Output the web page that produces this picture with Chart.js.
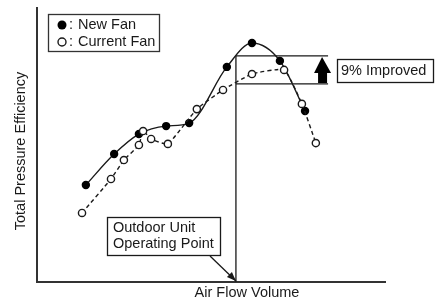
<!DOCTYPE html>
<html>
<head>
<meta charset="utf-8">
<script src="https://cdn.jsdelivr.net/npm/chart.js@4.4.1/dist/chart.umd.min.js"></script>
<style>
  html, body { margin: 0; padding: 0; background: #fff; }
  #wrap { width: 441px; height: 302px; position: relative; }
</style>
</head>
<body>
<div id="wrap"><canvas id="fanChart"></canvas></div>
<script>
// Valores (escala relativa 0-100 nos dois eixos)
const newFanX = [14.0, 22.1, 29.2, 37.0, 43.6, 54.4, 61.6, 69.6, 76.8];
const newFanY = [35.4, 46.7, 54.0, 56.9, 58.0, 78.5, 87.2, 80.7, 62.4];
const currentFanX = [12.9, 21.2, 24.9, 29.2, 30.4, 32.7, 37.5, 45.8, 53.3, 61.6, 70.8, 75.9, 79.9];
const currentFanY = [25.2, 37.6, 44.5, 50.0, 55.1, 52.2, 50.4, 63.1, 70.1, 75.9, 77.4, 65.0, 50.7];
const operatingPoint = 57.0;
const newFanAtPoint = 82.5;
const currentFanAtPoint = 72.3;
const bracketEnd = 83.4;

const seriesLabels = ['New Fan', 'Current Fan'];
const improvedLabel = '9% Improved';
const operatingLabel = ['Outdoor Unit', 'Operating Point'];
const xTitle = 'Air Flow Volume';
const yTitle = 'Total Pressure Efficiency';

const ink = '#1a1a1a';
const fontName = '"Liberation Sans", Arial, sans-serif';

function toPoints(xs, ys) {
    return xs.map((x, i) => ({ x: x, y: ys[i] }));
}

// Desenha eixos, caixas, setas e textos
const extrasPlugin = {
    id: 'extras',
    afterDatasetsDraw(chart) {
        const ctx = chart.ctx;
        const area = chart.chartArea;
        const sx = chart.scales.x;
        const sy = chart.scales.y;
        ctx.save();

        // eixos
        ctx.strokeStyle = '#333';
        ctx.lineWidth = 2;
        ctx.beginPath();
        ctx.moveTo(area.left, area.top - 1);
        ctx.lineTo(area.left, area.bottom);
        ctx.lineTo(area.right, area.bottom);
        ctx.stroke();

        // linha do ponto de operacao e faixa de melhoria
        const px = sx.getPixelForValue(operatingPoint);
        const yNew = sy.getPixelForValue(newFanAtPoint);
        const yCur = sy.getPixelForValue(currentFanAtPoint);
        const xEnd = sx.getPixelForValue(bracketEnd);
        ctx.strokeStyle = ink;
        ctx.lineWidth = 1.3;
        ctx.beginPath();
        ctx.moveTo(px, area.bottom);
        ctx.lineTo(px, yNew);
        ctx.moveTo(px, yNew);
        ctx.lineTo(xEnd, yNew);
        ctx.moveTo(px, yCur);
        ctx.lineTo(xEnd, yCur);
        ctx.stroke();

        // seta para cima
        const ax = xEnd - 6;
        ctx.fillStyle = '#000';
        ctx.beginPath();
        ctx.moveTo(ax, yNew + 1);
        ctx.lineTo(ax + 9, yNew + 17);
        ctx.lineTo(ax + 5, yNew + 17);
        ctx.lineTo(ax + 5, yCur - 1);
        ctx.lineTo(ax - 4, yCur - 1);
        ctx.lineTo(ax - 4, yNew + 17);
        ctx.lineTo(ax - 8, yNew + 17);
        ctx.closePath();
        ctx.fill();

        ctx.font = '14.5px ' + fontName;
        ctx.textBaseline = 'middle';
        ctx.fillStyle = ink;

        // caixa "9% Improved"
        ctx.lineWidth = 1.3;
        ctx.strokeRect(337.5, 59.5, 96, 23);
        ctx.textAlign = 'left';
        ctx.fillText(improvedLabel, 341, 71);

        // caixa do ponto de operacao
        ctx.strokeRect(107.5, 217.5, 113, 38);
        ctx.fillText(operatingLabel[0], 113, 228);
        ctx.fillText(operatingLabel[1], 113, 244);
        ctx.beginPath();
        ctx.moveTo(210, 256);
        ctx.lineTo(px, area.bottom - 1);
        ctx.stroke();
        ctx.beginPath();
        ctx.moveTo(px, area.bottom - 1);
        ctx.lineTo(px - 9, area.bottom - 5);
        ctx.lineTo(px - 4, area.bottom - 10);
        ctx.closePath();
        ctx.fill();

        // legenda
        ctx.strokeStyle = '#333';
        ctx.strokeRect(48.5, 14.5, 111, 37);
        ctx.fillStyle = '#000';
        ctx.beginPath();
        ctx.arc(62, 25, 4.5, 0, Math.PI * 2);
        ctx.fill();
        ctx.fillStyle = '#fff';
        ctx.strokeStyle = ink;
        ctx.lineWidth = 1.4;
        ctx.beginPath();
        ctx.arc(62, 42, 4, 0, Math.PI * 2);
        ctx.fill();
        ctx.stroke();
        ctx.fillStyle = ink;
        ctx.fillText(':', 69, 25);
        ctx.fillText(':', 69, 42);
        ctx.fillText(seriesLabels[0], 78, 25);
        ctx.fillText(seriesLabels[1], 78, 42);

        // titulos dos eixos
        ctx.textAlign = 'center';
        ctx.fillText(xTitle, 247, 293);
        ctx.translate(21, 151);
        ctx.rotate(-Math.PI / 2);
        ctx.fillText(yTitle, 0, 0);

        ctx.restore();
    }
};

const ctx = document.getElementById('fanChart').getContext('2d');
new Chart(ctx, {
    type: 'line',
    data: {
        datasets: [
            {
                label: seriesLabels[0],
                data: toPoints(newFanX, newFanY),
                borderColor: ink,
                borderWidth: 1.4,
                cubicInterpolationMode: 'monotone',
                pointRadius: 4.2,
                pointBackgroundColor: '#000',
                pointBorderColor: '#000',
                pointBorderWidth: 0,
                order: 2
            },
            {
                label: seriesLabels[1],
                data: toPoints(currentFanX, currentFanY),
                borderColor: ink,
                borderWidth: 1.4,
                borderDash: [4, 3],
                tension: 0.15,
                pointRadius: 3.6,
                pointBackgroundColor: '#fff',
                pointBorderColor: ink,
                pointBorderWidth: 1.4,
                order: 1
            }
        ]
    },
    options: {
        responsive: true,
        maintainAspectRatio: false,
        animation: false,
        layout: {
            padding: { left: 37, right: 55, top: 8, bottom: 20 }
        },
        plugins: {
            legend: { display: false },
            tooltip: { enabled: false }
        },
        scales: {
            x: { type: 'linear', min: 0, max: 100, display: false },
            y: { min: 0, max: 100, display: false }
        },
        elements: { line: { fill: false } }
    },
    plugins: [extrasPlugin]
});
</script>
</body>
</html>
